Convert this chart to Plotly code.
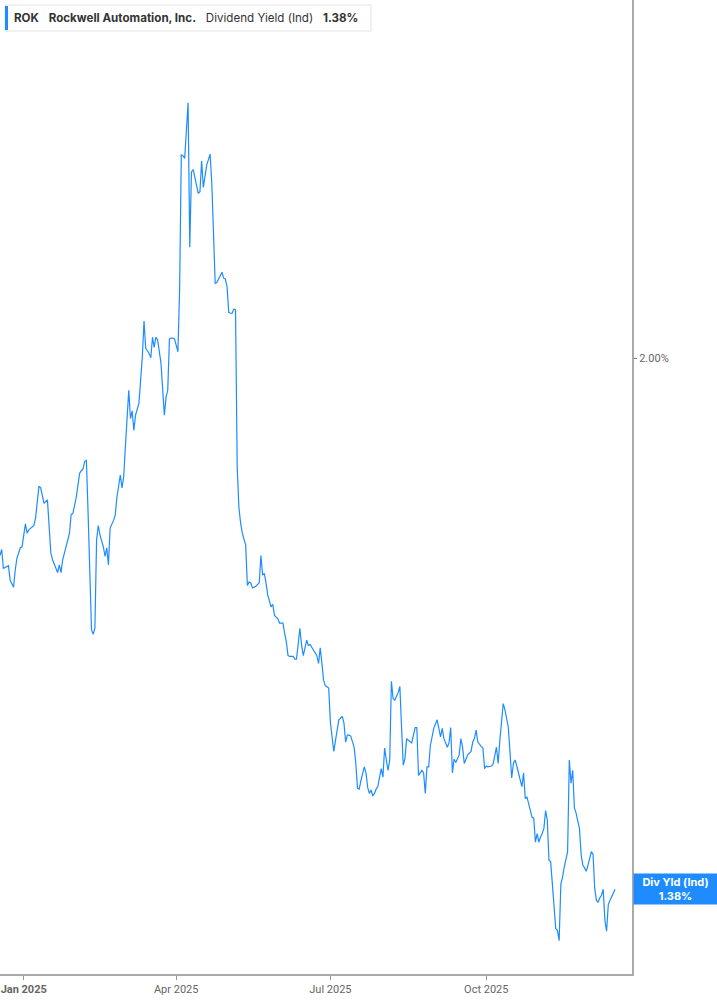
import plotly.graph_objects as go

# ROK dividend yield (indicated)
dates = [
    "2024-12-18", "2024-12-19", "2024-12-20", "2024-12-21", "2024-12-23", "2024-12-24", "2024-12-26", "2024-12-27",
    "2024-12-28", "2024-12-30", "2024-12-31", "2025-01-02", "2025-01-03", "2025-01-04", "2025-01-06", "2025-01-07",
    "2025-01-08", "2025-01-10", "2025-01-11", "2025-01-12", "2025-01-13", "2025-01-15", "2025-01-17", "2025-01-18",
    "2025-01-21", "2025-01-22", "2025-01-23", "2025-01-24", "2025-01-26", "2025-01-28", "2025-01-29", "2025-01-30",
    "2025-02-01", "2025-02-03", "2025-02-04", "2025-02-05", "2025-02-06", "2025-02-07", "2025-02-08", "2025-02-09",
    "2025-02-10", "2025-02-11", "2025-02-12", "2025-02-13", "2025-02-14", "2025-02-15", "2025-02-17", "2025-02-18",
    "2025-02-19", "2025-02-20", "2025-02-21", "2025-02-23", "2025-02-24", "2025-02-25", "2025-02-26", "2025-02-27",
    "2025-02-28", "2025-03-01", "2025-03-02", "2025-03-03", "2025-03-04", "2025-03-05", "2025-03-06", "2025-03-07",
    "2025-03-08", "2025-03-10", "2025-03-11", "2025-03-12", "2025-03-13", "2025-03-14", "2025-03-16", "2025-03-17",
    "2025-03-18", "2025-03-19", "2025-03-20", "2025-03-21", "2025-03-23", "2025-03-24", "2025-03-25", "2025-03-26",
    "2025-03-27", "2025-03-28", "2025-03-29", "2025-03-30", "2025-03-31", "2025-04-02", "2025-04-03", "2025-04-04",
    "2025-04-05", "2025-04-06", "2025-04-08", "2025-04-09", "2025-04-10", "2025-04-11", "2025-04-12", "2025-04-13",
    "2025-04-14", "2025-04-15", "2025-04-16", "2025-04-17", "2025-04-18", "2025-04-19", "2025-04-21", "2025-04-22",
    "2025-04-23", "2025-04-24", "2025-04-25", "2025-04-27", "2025-04-28", "2025-04-29", "2025-04-30", "2025-05-01",
    "2025-05-02", "2025-05-03", "2025-05-04", "2025-05-05", "2025-05-06", "2025-05-07", "2025-05-08", "2025-05-09",
    "2025-05-10", "2025-05-12", "2025-05-13", "2025-05-14", "2025-05-15", "2025-05-16", "2025-05-18", "2025-05-20",
    "2025-05-21", "2025-05-22", "2025-05-23", "2025-05-24", "2025-05-25", "2025-05-27", "2025-05-28", "2025-05-29",
    "2025-05-31", "2025-06-01", "2025-06-03", "2025-06-04", "2025-06-05", "2025-06-06", "2025-06-07", "2025-06-09",
    "2025-06-10", "2025-06-11", "2025-06-13", "2025-06-14", "2025-06-15", "2025-06-17", "2025-06-18", "2025-06-19",
    "2025-06-20", "2025-06-22", "2025-06-23", "2025-06-24", "2025-06-25", "2025-06-26", "2025-06-27", "2025-06-28",
    "2025-06-30", "2025-07-01", "2025-07-03", "2025-07-04", "2025-07-05", "2025-07-06", "2025-07-08", "2025-07-09",
    "2025-07-10", "2025-07-11", "2025-07-12", "2025-07-13", "2025-07-15", "2025-07-16", "2025-07-17", "2025-07-18",
    "2025-07-19", "2025-07-20", "2025-07-21", "2025-07-22", "2025-07-23", "2025-07-24", "2025-07-25", "2025-07-26",
    "2025-07-27", "2025-07-28", "2025-07-29", "2025-07-30", "2025-07-31", "2025-08-01", "2025-08-02", "2025-08-03",
    "2025-08-04", "2025-08-05", "2025-08-06", "2025-08-07", "2025-08-08", "2025-08-10", "2025-08-11", "2025-08-12",
    "2025-08-13", "2025-08-14", "2025-08-15", "2025-08-16", "2025-08-18", "2025-08-20", "2025-08-21", "2025-08-22",
    "2025-08-23", "2025-08-24", "2025-08-25", "2025-08-26", "2025-08-27", "2025-08-28", "2025-08-29", "2025-08-30",
    "2025-08-31", "2025-09-02", "2025-09-03", "2025-09-04", "2025-09-05", "2025-09-06", "2025-09-08", "2025-09-09",
    "2025-09-10", "2025-09-11", "2025-09-12", "2025-09-13", "2025-09-15", "2025-09-16", "2025-09-17", "2025-09-18",
    "2025-09-19", "2025-09-20", "2025-09-22", "2025-09-23", "2025-09-24", "2025-09-25", "2025-09-26", "2025-09-27",
    "2025-09-28", "2025-09-29", "2025-09-30", "2025-10-01", "2025-10-02", "2025-10-04", "2025-10-05", "2025-10-07",
    "2025-10-08", "2025-10-09", "2025-10-10", "2025-10-11", "2025-10-12", "2025-10-13", "2025-10-14", "2025-10-15",
    "2025-10-16", "2025-10-17", "2025-10-18", "2025-10-19", "2025-10-20", "2025-10-21", "2025-10-22", "2025-10-23",
    "2025-10-24", "2025-10-25", "2025-10-26", "2025-10-27", "2025-10-28", "2025-10-29", "2025-10-30", "2025-10-31",
    "2025-11-01", "2025-11-02", "2025-11-03", "2025-11-04", "2025-11-05", "2025-11-06", "2025-11-07", "2025-11-08",
    "2025-11-09", "2025-11-10", "2025-11-11", "2025-11-12", "2025-11-13", "2025-11-14", "2025-11-15", "2025-11-16",
    "2025-11-17", "2025-11-18", "2025-11-19", "2025-11-20", "2025-11-21", "2025-11-22", "2025-11-23", "2025-11-24",
    "2025-11-25", "2025-11-26", "2025-11-27", "2025-11-28", "2025-11-29", "2025-11-30", "2025-12-01", "2025-12-02",
    "2025-12-03", "2025-12-04", "2025-12-05", "2025-12-06", "2025-12-07", "2025-12-08", "2025-12-09", "2025-12-10",
    "2025-12-11", "2025-12-12", "2025-12-13", "2025-12-14", "2025-12-15", "2025-12-16",
]

div_yield = [
    1.770, 1.777, 1.755, 1.756, 1.758, 1.741, 1.733, 1.753, 1.767, 1.779, 1.780, 1.807, 1.796, 1.800, 1.803, 1.805,
    1.814, 1.851, 1.849, 1.838, 1.831, 1.835, 1.773, 1.765, 1.750, 1.759, 1.750, 1.765, 1.782, 1.796, 1.818, 1.819,
    1.838, 1.866, 1.869, 1.871, 1.880, 1.881, 1.819, 1.738, 1.683, 1.678, 1.685, 1.788, 1.805, 1.794, 1.780, 1.769,
    1.779, 1.759, 1.802, 1.811, 1.817, 1.838, 1.849, 1.864, 1.849, 1.862, 1.897, 1.925, 1.963, 1.930, 1.939, 1.916,
    1.934, 1.948, 1.975, 2.002, 2.044, 2.012, 2.006, 2.001, 2.025, 2.013, 2.025, 2.022, 1.995, 1.963, 1.934, 1.955,
    1.963, 2.023, 2.024, 2.024, 2.023, 2.008, 2.080, 2.238, 2.237, 2.234, 2.299, 2.130, 2.218, 2.221, 2.212, 2.200,
    2.193, 2.195, 2.231, 2.200, 2.211, 2.226, 2.239, 2.205, 2.147, 2.088, 2.089, 2.096, 2.101, 2.094, 2.093, 2.084,
    2.054, 2.053, 2.053, 2.058, 2.057, 1.873, 1.826, 1.808, 1.796, 1.782, 1.735, 1.739, 1.738, 1.732, 1.734, 1.738,
    1.770, 1.747, 1.749, 1.738, 1.724, 1.710, 1.713, 1.700, 1.696, 1.691, 1.691, 1.679, 1.669, 1.653, 1.652, 1.652,
    1.649, 1.649, 1.685, 1.665, 1.653, 1.671, 1.665, 1.666, 1.663, 1.657, 1.653, 1.644, 1.662, 1.644, 1.624, 1.618,
    1.615, 1.575, 1.541, 1.554, 1.564, 1.578, 1.582, 1.574, 1.552, 1.560, 1.560, 1.559, 1.546, 1.527, 1.498, 1.497,
    1.507, 1.516, 1.523, 1.516, 1.499, 1.492, 1.496, 1.489, 1.492, 1.497, 1.500, 1.511, 1.521, 1.511, 1.545, 1.531,
    1.519, 1.531, 1.623, 1.603, 1.601, 1.610, 1.617, 1.569, 1.525, 1.533, 1.556, 1.554, 1.551, 1.569, 1.569, 1.513,
    1.516, 1.519, 1.516, 1.492, 1.523, 1.523, 1.548, 1.558, 1.568, 1.578, 1.569, 1.558, 1.568, 1.556, 1.546, 1.551,
    1.569, 1.516, 1.532, 1.528, 1.537, 1.556, 1.546, 1.527, 1.532, 1.537, 1.541, 1.552, 1.556, 1.566, 1.552, 1.549,
    1.547, 1.545, 1.521, 1.524, 1.523, 1.524, 1.526, 1.546, 1.527, 1.554, 1.578, 1.597, 1.590, 1.581, 1.569, 1.540,
    1.510, 1.527, 1.531, 1.524, 1.516, 1.509, 1.500, 1.516, 1.486, 1.488, 1.481, 1.472, 1.464, 1.463, 1.435, 1.445,
    1.435, 1.441, 1.445, 1.451, 1.472, 1.461, 1.414, 1.412, 1.382, 1.352, 1.334, 1.332, 1.320, 1.386, 1.394, 1.406,
    1.416, 1.424, 1.531, 1.504, 1.519, 1.475, 1.469, 1.461, 1.451, 1.420, 1.408, 1.405, 1.401, 1.408, 1.417, 1.424,
    1.421, 1.381, 1.367, 1.365, 1.370, 1.373, 1.380, 1.344, 1.331, 1.362, 1.367, 1.372, 1.376, 1.380,
]

x_tick_vals = ["2025-01-01", "2025-04-01", "2025-07-01", "2025-10-01"]
x_tick_text = ["<b>Jan 2025</b>", "Apr 2025", "Jul 2025", "Oct 2025"]
y_tick_vals = [2.00]
y_tick_text = ["2.00%"]

last_val = div_yield[-1]
blue = "#1e8cff"

fig = go.Figure()
fig.add_trace(go.Scatter(x=dates, y=div_yield, mode="lines",
                         line=dict(color=blue, width=1.2), showlegend=False, hoverinfo="skip"))

fig.update_layout(
    width=717, height=1005,
    margin=dict(l=0, r=85, t=0, b=31),
    paper_bgcolor="white", plot_bgcolor="white",
    font=dict(family="Roboto", size=11, color="#666666"),
    xaxis=dict(range=["2024-12-18", "2025-12-26"], showgrid=False, zeroline=False,
               showline=True, linecolor="#aaaaaa", linewidth=2,
               tickvals=x_tick_vals, ticktext=x_tick_text,
               ticks="outside", ticklen=4, tickcolor="#999999",
               tickfont=dict(family="Roboto", size=11, color="#666666")),
    yaxis=dict(range=[1.281, 2.419], side="right", showgrid=False, zeroline=False,
               showline=True, linecolor="#aaaaaa", linewidth=2,
               tickvals=y_tick_vals, ticktext=y_tick_text,
               ticks="outside", ticklen=3, tickcolor="#777777",
               tickfont=dict(family="Roboto", size=11, color="#666666")),
)

# legend box at top left
fig.add_shape(type="rect", xref="paper", yref="paper", xsizemode="pixel", ysizemode="pixel",
              xanchor=0, yanchor=1, x0=5, x1=371, y0=-5, y1=-31,
              fillcolor="white", line=dict(color="#e2e2e2", width=1))
fig.add_shape(type="rect", xref="paper", yref="paper", xsizemode="pixel", ysizemode="pixel",
              xanchor=0, yanchor=1, x0=5, x1=8, y0=-6, y1=-30,
              fillcolor=blue, line=dict(width=0))
sp = "&nbsp;&nbsp;&nbsp;"
fig.add_annotation(xref="paper", yref="paper", x=0, y=1, xanchor="left", yanchor="middle",
                   xshift=12, yshift=-18, showarrow=False,
                   text="<b>ROK</b>" + sp + "<b>Rockwell Automation, Inc.</b>" + sp
                        + "Dividend Yield (Ind)" + sp + "<b>" + f"{last_val:.2f}%" + "</b>",
                   font=dict(family="Inter", size=11.6, color="#333333"))

# last value label on the right axis
fig.add_annotation(xref="paper", yref="y", x=1, y=last_val, xanchor="left", yanchor="middle",
                   xshift=1, showarrow=False, width=79, height=26, bgcolor=blue, borderpad=2,
                   text="<b>Div Yld (Ind)</b><br><b>" + f"{last_val:.2f}%" + "</b>",
                   font=dict(family="Inter", size=11, color="white"))

# drop the default page margin so the figure sits at the window corner
fig.write_html("out.html", config={"displayModeBar": False},
               post_script="document.body.style.margin='0';")
